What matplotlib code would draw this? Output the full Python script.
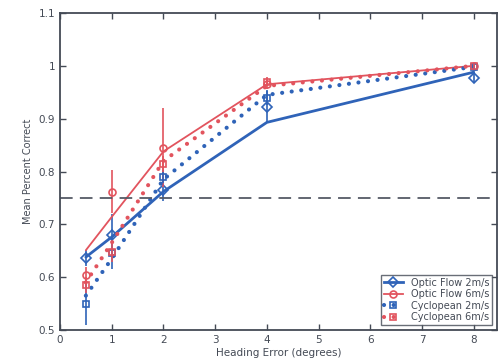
import matplotlib

matplotlib.use("Agg")
import matplotlib.pyplot as plt

# heading error levels (degrees)
heading = [0.5, 1, 2, 4, 8]

# fitted curves
of2_fit = [0.638, 0.676, 0.762, 0.893, 0.988]
of6_fit = [0.651, 0.714, 0.838, 0.965, 1.000]
cy2_fit = [0.565, 0.635, 0.785, 0.945, 0.998]
cy6_fit = [0.590, 0.665, 0.820, 0.962, 1.000]

# measured means and error bars
of2_data = [0.637, 0.680, 0.765, 0.922, 0.977]
of2_err = [0.015, 0.040, 0.020, 0.030, 0.010]
of6_data = [0.605, 0.762, 0.845, 0.965, 1.000]
of6_err = [0.015, 0.040, 0.075, 0.008, 0.004]
cy2_data = [0.550, 0.645, 0.790, 0.940, 0.998]
cy2_err = [0.040, 0.030, 0.012, 0.015, 0.004]
cy6_data = [0.585, 0.648, 0.815, 0.970, 1.000]
cy6_err = [0.015, 0.020, 0.015, 0.008, 0.004]

threshold = 0.75

BLUE = "#2f63b8"
RED = "#e2545e"
DOTS = (0, (0.01, 2.3))

fig = plt.figure(figsize=(4.99, 3.64), dpi=100)
ax = fig.add_axes([60 / 499, 1 - 330 / 364, 437 / 499, 317 / 364])

series = [
    ("Optic Flow 2m/s", of2_fit, of2_data, of2_err, BLUE, "-", "D", 2.0),
    ("Optic Flow 6m/s", of6_fit, of6_data, of6_err, RED, "-", "o", 1.3),
    ("Cyclopean 2m/s", cy2_fit, cy2_data, cy2_err, BLUE, DOTS, "s", 3.0),
    ("Cyclopean 6m/s", cy6_fit, cy6_data, cy6_err, RED, DOTS, "s", 3.0),
]

handles = []
for label, fit, data, err, color, ls, marker, lw in series:
    ax.plot(heading, fit, color=color, linestyle=ls, linewidth=lw,
            dash_capstyle="round", solid_capstyle="round")
    ax.errorbar(heading, data, yerr=err, fmt="none", ecolor=color, elinewidth=1.2)
    ax.plot(heading, data, linestyle="none", marker=marker, markersize=5,
            markerfacecolor="none", markeredgecolor=color, markeredgewidth=1.2)
    h, = ax.plot([], [], color=color, linestyle=ls, linewidth=lw, marker=marker,
                 markersize=5, markerfacecolor="none", markeredgecolor=color,
                 markeredgewidth=1.2, dash_capstyle="round", label=label)
    handles.append(h)

ax.axhline(threshold, color="#555a66", linestyle=(0, (7, 4)), linewidth=1.3)

ax.set_xlim(0, 8.45)
ax.set_ylim(0.5, 1.1)
ax.set_xticks(range(0, 9))
ax.set_yticks([0.5, 0.6, 0.7, 0.8, 0.9, 1.0, 1.1])
ax.set_yticklabels(["0.5", "0.6", "0.7", "0.8", "0.9", "1", "1.1"])
ax.tick_params(direction="in", top=True, right=True, labelsize=7.5,
               colors="#444a55", length=4, width=1)
for s in ax.spines.values():
    s.set_color("#444a55")
    s.set_linewidth(1.3)

ax.set_xlabel("Heading Error (degrees)", fontsize=7.5, color="#444a55", labelpad=2)
ax.set_ylabel("Mean Percent Correct", fontsize=7, color="#444a55", labelpad=4)

leg = ax.legend(handles=handles, loc="lower right", fontsize=7, frameon=True,
                fancybox=False, borderpad=0.3, labelspacing=0.15,
                handlelength=2.0, borderaxespad=0.5)
leg.get_frame().set_edgecolor("#444a55")
leg.get_frame().set_linewidth(1.0)
for t in leg.get_texts():
    t.set_color("#444a55")

fig.savefig("out.png")
